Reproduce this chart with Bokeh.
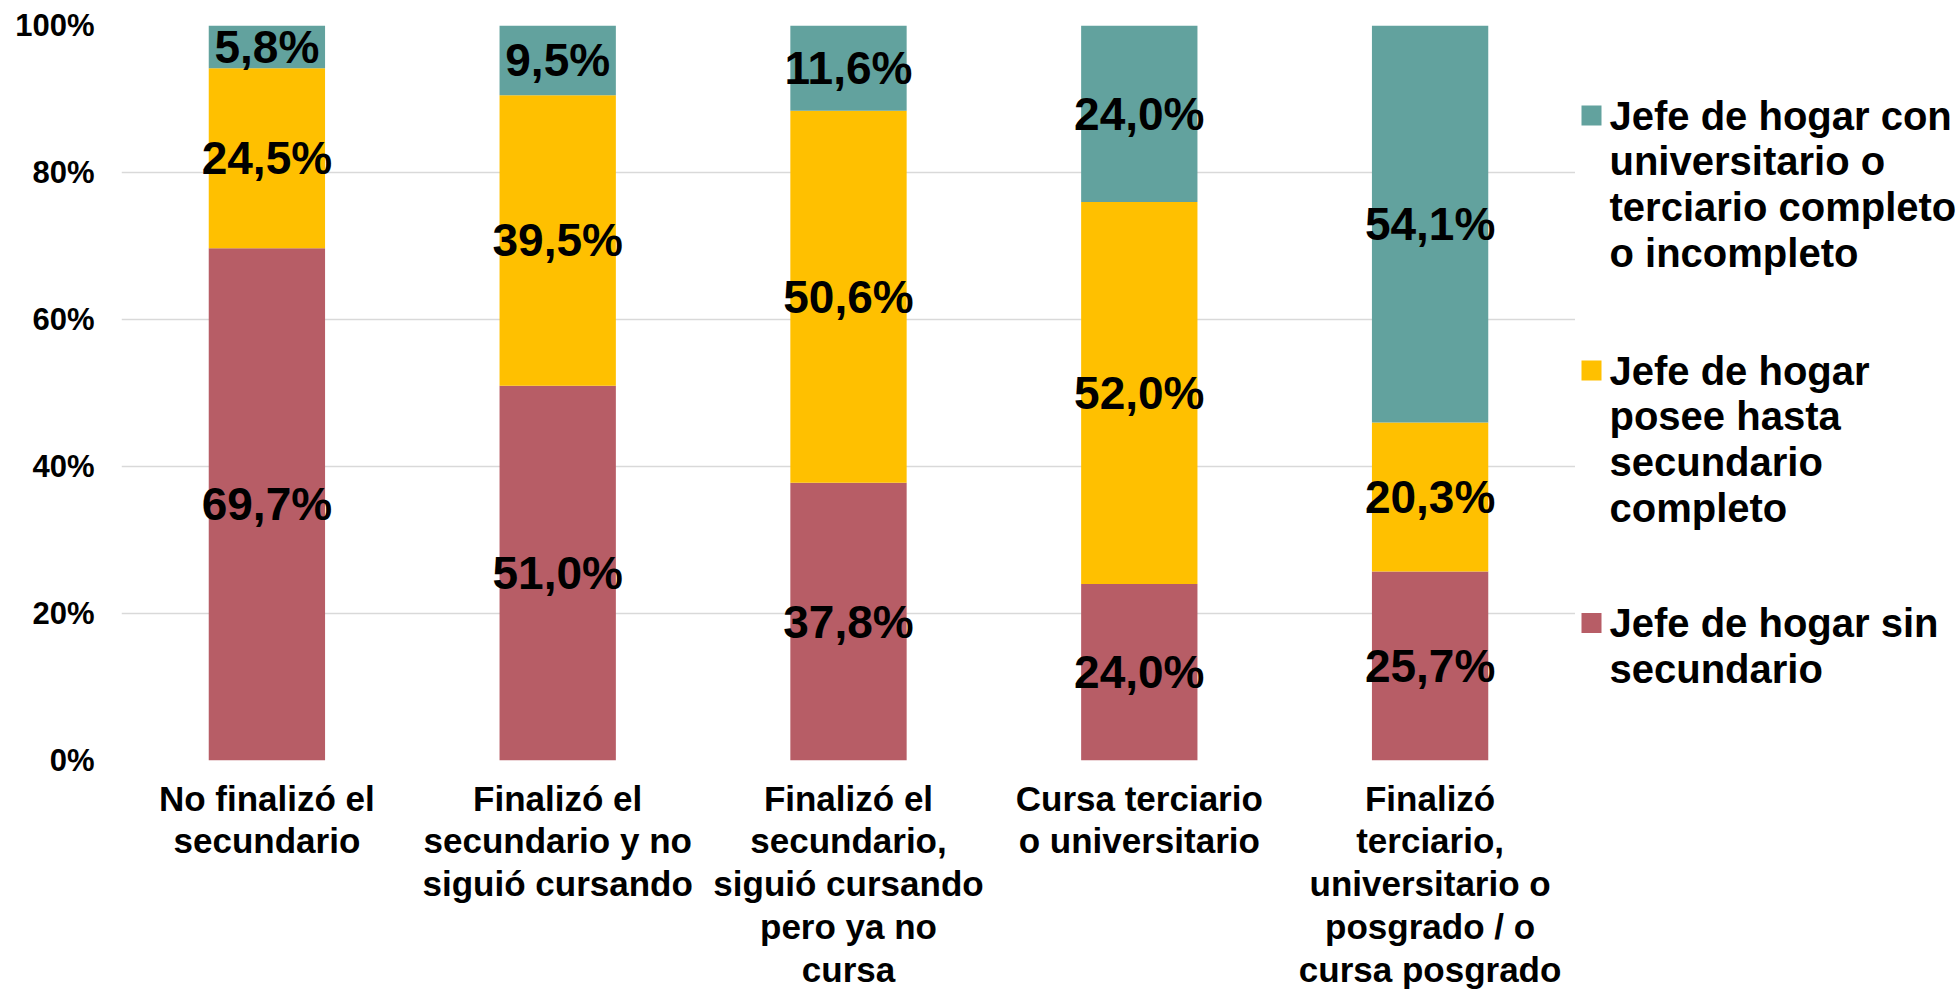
from bokeh.plotting import figure
from bokeh.models import ColumnDataSource, Range1d, FixedTicker
from bokeh.layouts import row
from bokeh.core.properties import value
from bokeh.embed import file_html
from bokeh.resources import INLINE

categories = [
    "No finalizó el\nsecundario",
    "Finalizó el\nsecundario y no\nsiguió cursando",
    "Finalizó el\nsecundario,\nsiguió cursando\npero ya no\ncursa",
    "Cursa terciario\no universitario",
    "Finalizó\nterciario,\nuniversitario o\nposgrado / o\ncursa posgrado",
]
sin_secundario = [69.7, 51.0, 37.8, 24.0, 25.7]
hasta_secundario = [24.5, 39.5, 50.6, 52.0, 20.3]
universitario = [5.8, 9.5, 11.6, 24.0, 54.1]

series_keys = ["sin", "hasta", "univ"]
series_names = [
    "Jefe de hogar sin\nsecundario",
    "Jefe de hogar\nposee hasta\nsecundario\ncompleto",
    "Jefe de hogar con\nuniversitario o\nterciario completo\no incompleto",
]
colors = ["#B75D66", "#FFC000", "#62A29E"]
y_ticks = [0, 20, 40, 60, 80, 100]
y_tick_labels = ["0%", "20%", "40%", "60%", "80%", "100%"]

BOLD = "Liberation Sans"

data = dict(cat=categories, sin=sin_secundario, hasta=hasta_secundario, univ=universitario)
src = ColumnDataSource(data)

p = figure(x_range=categories, y_range=Range1d(0, 100), width=1575, height=994,
           output_backend="svg", toolbar_location=None,
           min_border_left=121, min_border_right=0, min_border_top=25, min_border_bottom=234)
p.vbar_stack(series_keys, x="cat", width=0.4, color=colors, source=src, line_color=None)

# value labels centered in each segment
lab_x, lab_y, lab_t = [], [], []
for i, c in enumerate(categories):
    base = 0.0
    for vals in (sin_secundario, hasta_secundario, universitario):
        v = vals[i]
        lab_x.append(c)
        lab_y.append(min(base + v / 2, 100))
        lab_t.append(("%.1f" % v).replace(".", ",") + "%")
        base += v
p.text(x=lab_x, y=lab_y, text=lab_t, text_align="center", text_baseline="middle",
       text_font=value(BOLD), text_font_style="bold", text_font_size="46px", text_color="black")

p.outline_line_color = None
p.xgrid.grid_line_color = None
p.ygrid.grid_line_color = "#D9D9D9"
p.ygrid.grid_line_width = 1.5
p.yaxis.ticker = FixedTicker(ticks=y_ticks)
p.yaxis.major_label_overrides = {t: l for t, l in zip(y_ticks, y_tick_labels)}
for ax in (p.xaxis, p.yaxis):
    ax.axis_line_color = None
    ax.major_tick_line_color = None
    ax.minor_tick_line_color = None
    ax.major_tick_out = 0
    ax.major_tick_in = 0
p.yaxis.major_label_text_font = BOLD
p.yaxis.major_label_text_font_style = "bold"
p.yaxis.major_label_text_font_size = "31px"
p.yaxis.major_label_text_color = "black"
p.yaxis.major_label_standoff = 27
p.xaxis.major_label_text_font = BOLD
p.xaxis.major_label_text_font_style = "bold"
p.xaxis.major_label_text_font_size = "35px"
p.xaxis.major_label_text_color = "black"
p.xaxis.major_label_text_line_height = 1.1
p.xaxis.major_label_standoff = 18
p.xaxis.major_label_orientation = "horizontal"

# legend figure: its frame is aligned with the main frame (page y 25..760)
lg = figure(width=383, height=994, x_range=Range1d(1575, 1958), y_range=Range1d(760, 25),
            output_backend="svg", toolbar_location=None,
            x_axis_type=None, y_axis_type=None,
            min_border=0, min_border_left=0, min_border_right=0, min_border_top=0, min_border_bottom=0)
lg.outline_line_color = None
lg.xgrid.grid_line_color = None
lg.ygrid.grid_line_color = None

entry_y = [622.5, 370, 115]  # first-line centers, per series order
line_gap = 45.8
sq_x, sq_y, sq_c = [], [], []
tx, ty, tt = [], [], []
for name, col, y0 in zip(series_names, colors, entry_y):
    sq_x.append(1591)
    sq_y.append(y0)
    sq_c.append(col)
    for k, line in enumerate(name.split("\n")):
        tx.append(1609)
        ty.append(y0 + k * line_gap)
        tt.append(line)
lg.rect(x=sq_x, y=sq_y, width=20, height=20, color=sq_c, line_color=None)
lg.text(x=tx, y=ty, text=tt, text_align="left", text_baseline="middle",
        text_font=value(BOLD), text_font_style="bold", text_font_size="40px",
        text_color="black")

layout = row(p, lg)
open("out.html", "w").write(file_html(layout, INLINE))
